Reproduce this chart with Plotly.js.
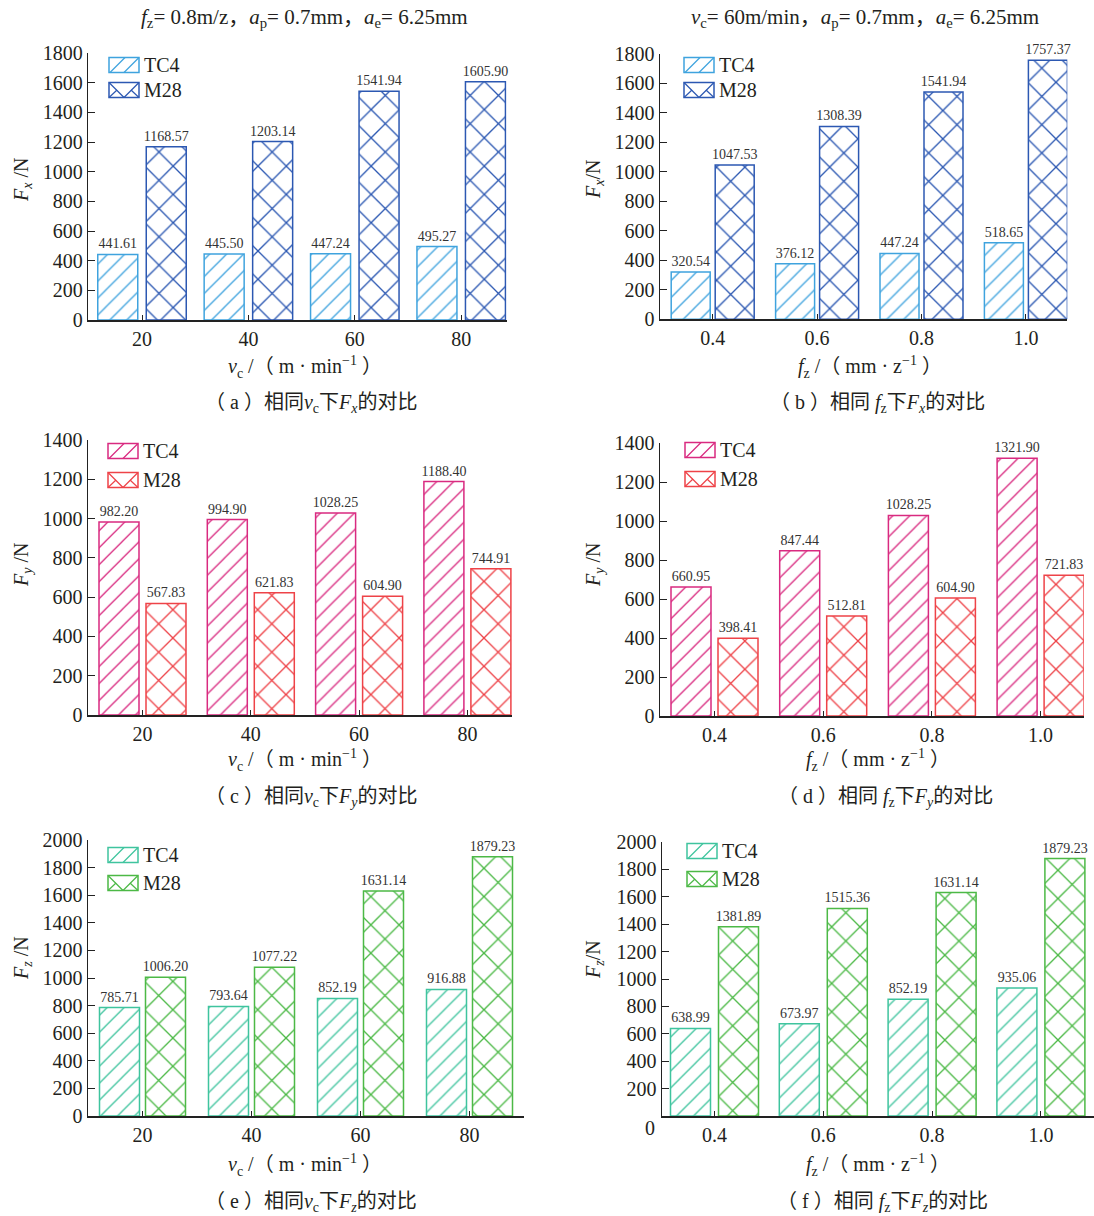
<!DOCTYPE html>
<html>
<head>
<meta charset="utf-8">
<script src="https://cdn.plot.ly/plotly-3.0.1.min.js"></script>
<style>html,body{margin:0;padding:0;background:#fff;}#chart{width:1094px;height:1216px;}</style>
</head>
<body>
<div id="chart"></div>
<script>
// ---------------- data ----------------
const vcCats = ['20', '40', '60', '80'];
const fzCats = ['0.4', '0.6', '0.8', '1.0'];
const seriesNames = ['TC4', 'M28'];

const fxVcTC4 = [441.61, 445.50, 447.24, 495.27];
const fxVcM28 = [1168.57, 1203.14, 1541.94, 1605.90];
const fxFzTC4 = [320.54, 376.12, 447.24, 518.65];
const fxFzM28 = [1047.53, 1308.39, 1541.94, 1757.37];
const fyVcTC4 = [982.20, 994.90, 1028.25, 1188.40];
const fyVcM28 = [567.83, 621.83, 604.90, 744.91];
const fyFzTC4 = [660.95, 847.44, 1028.25, 1321.90];
const fyFzM28 = [398.41, 512.81, 604.90, 721.83];
const fzVcTC4 = [785.71, 793.64, 852.19, 916.88];
const fzVcM28 = [1006.20, 1077.22, 1631.14, 1879.23];
const fzFzTC4 = [638.99, 673.97, 852.19, 935.06];
const fzFzM28 = [1381.89, 1515.36, 1631.14, 1879.23];

// ---------------- layout helpers ----------------
const W = 1094, H = 1216;
const px = v => v / W;
const py = v => 1 - v / H;
const FONT = 'Liberation Serif, "Times New Roman", "Noto Sans CJK SC", serif';
const TXT = '#231f20';

const blue = ['#3fa3de', '#2c58b2'];
const red = ['#d92a80', '#ee4348'];
const green = ['#3fc49e', '#4cb946'];

const panels = [
  {L: 88.3, R: 506.7, T: 53, B: 320, c0: 142, sp: 106.4, bw: 40, gap: 8.5, ymax: 1800,
   cats: vcCats, tc4: fxVcTC4, m28: fxVcM28, col: blue, legX: 109, legY: [65, 90]},
  {L: 660, R: 1067.3, T: 54, B: 319.3, c0: 712.7, sp: 104.4, bw: 39, gap: 5, ymax: 1800,
   cats: fzCats, tc4: fxFzTC4, m28: fxFzM28, col: blue, legX: 684, legY: [65, 90]},
  {L: 88, R: 512, T: 440, B: 715, c0: 142.5, sp: 108.3, bw: 40, gap: 7, ymax: 1400,
   cats: vcCats, tc4: fyVcTC4, m28: fyVcM28, col: red, legX: 108, legY: [451, 480]},
  {L: 660, R: 1084, T: 443, B: 716, c0: 714.5, sp: 108.7, bw: 40, gap: 7, ymax: 1400,
   cats: fzCats, tc4: fyFzTC4, m28: fyFzM28, col: red, legX: 685, legY: [450, 479]},
  {L: 88, R: 524, T: 840, B: 1116, c0: 142.5, sp: 109, bw: 40, gap: 6, ymax: 2000,
   cats: vcCats, tc4: fzVcTC4, m28: fzVcM28, col: green, legX: 108, legY: [855, 883]},
  {L: 662, R: 1094, T: 842, B: 1116, c0: 714.5, sp: 108.8, bw: 40, gap: 8, ymax: 2000,
   cats: fzCats, tc4: fzFzTC4, m28: fzFzM28, col: green, legX: 687, legY: [851, 879], noZero: true}
];

const traces = [];
const layout = {
  width: W, height: H,
  margin: {l: 0, r: 0, t: 0, b: 0},
  paper_bgcolor: '#fff', plot_bgcolor: 'rgba(0,0,0,0)',
  barmode: 'overlay',
  showlegend: false,
  font: {family: FONT, color: TXT, size: 20},
  shapes: [], annotations: []
};

panels.forEach((p, i) => {
  const n = i + 1;
  const xs = n === 1 ? '' : String(n);
  const w = p.bw / p.sp;
  const g = p.gap / p.sp;
  [p.tc4, p.m28].forEach((vals, k) => {
    const c = p.col[k];
    traces.push({
      type: 'bar', name: seriesNames[k],
      x: p.cats, y: vals,
      xaxis: 'x' + xs, yaxis: 'y' + xs,
      width: w,
      offset: k === 0 ? -(g / 2 + w) : g / 2,
      text: vals.map(v => v.toFixed(2)),
      textposition: 'outside',
      constraintext: 'none',
      cliponaxis: false,
      textfont: {family: FONT, size: 14, color: '#333'},
      marker: {
        color: '#fff',
        line: {color: c, width: 1.5},
        pattern: {shape: k === 0 ? '/' : 'x', fgcolor: c, bgcolor: '#fff',
                  size: k === 0 ? 12 : 20, solidity: k === 0 ? 0.11 : 0.13, fillmode: 'replace'}
      },
      hoverinfo: 'skip'
    });
  });
  layout['xaxis' + xs] = {
    domain: [px(p.L), px(p.R)], anchor: 'y' + xs,
    type: 'category', categoryorder: 'array', categoryarray: p.cats,
    range: [(p.L - p.c0) / p.sp, (p.R - p.c0) / p.sp],
    showline: true, linecolor: '#222', linewidth: 1.5,
    ticks: 'inside', ticklen: 5, tickwidth: 1, tickcolor: '#222',
    tickfont: {family: FONT, size: 20, color: TXT},
    showgrid: false, zeroline: false, fixedrange: true
  };
  const yax = {
    domain: [py(p.B), py(p.T)], anchor: 'x' + xs,
    range: [0, p.ymax], tick0: 0, dtick: 200,
    showline: true, linecolor: '#222', linewidth: 1.5,
    ticks: 'inside', ticklen: 7, tickwidth: 1, tickcolor: '#222',
    tickfont: {family: FONT, size: 20, color: TXT},
    showgrid: false, zeroline: false, fixedrange: true
  };
  if (p.noZero) {
    const tv = [];
    for (let v = 200; v <= p.ymax; v += 200) tv.push(v);
    yax.tickmode = 'array'; yax.tickvals = tv; yax.ticktext = tv.map(String);
  }
  layout['yaxis' + xs] = yax;

  // legend swatches (drawn as shapes)
  p.legY.forEach((yc, k) => {
    const c = p.col[k];
    const x0 = p.legX, x1 = p.legX + 30, y0 = yc - 7.5, y1 = yc + 7.5;
    layout.shapes.push({type: 'rect', xref: 'paper', yref: 'paper',
      x0: px(x0), x1: px(x1), y0: py(y1), y1: py(y0),
      line: {color: c, width: 1.5}, fillcolor: '#fff'});
    const segs = k === 0
      ? [[x0 + 1, y1, x0 + 16, y0], [x0 + 15, y1, x0 + 30, y0]]
      : [[x0, y0, x0 + 15, y1], [x0 + 15, y1, x0 + 30, y0], [x0, y1, x0 + 8, y0 + 7.5], [x0 + 30, y1, x0 + 22, y0 + 7.5]];
    segs.forEach(s => layout.shapes.push({type: 'line', xref: 'paper', yref: 'paper',
      x0: px(s[0]), y0: py(s[1]), x1: px(s[2]), y1: py(s[3]), line: {color: c, width: 1.2}}));
    layout.annotations.push({xref: 'paper', yref: 'paper', x: px(x1 + 3), y: py(yc),
      xanchor: 'left', yanchor: 'middle', showarrow: false, text: seriesNames[k],
      font: {family: FONT, size: 20, color: TXT}});
  });
});

function ann(x, y, text, opts) {
  layout.annotations.push(Object.assign({xref: 'paper', yref: 'paper', x: px(x), y: py(y),
    xanchor: 'center', yanchor: 'middle', showarrow: false, text: text,
    font: {family: FONT, size: 20, color: TXT}}, opts || {}));
}

// header conditions
const hdrFont = {family: FONT, size: 21, color: TXT};
ann(305, 18, '<i>f</i><sub>z</sub>= 0.8m/z，<i>a</i><sub>p</sub>= 0.7mm，<i>a</i><sub>e</sub>= 6.25mm', {font: hdrFont});
ann(865, 18, '<i>v</i><sub>c</sub>= 60m/min，<i>a</i><sub>p</sub>= 0.7mm，<i>a</i><sub>e</sub>= 6.25mm', {font: hdrFont});

// y-axis titles
ann(22, 180, '<i>F</i><sub><i>x</i></sub> /N', {textangle: -90});
ann(594, 180, '<i>F</i><sub><i>x</i></sub>/N', {textangle: -90});
ann(22, 565, '<i>F</i><sub><i>y</i></sub> /N', {textangle: -90});
ann(594, 565, '<i>F</i><sub><i>y</i></sub> /N', {textangle: -90});
ann(22, 958, '<i>F</i><sub><i>z</i></sub> /N', {textangle: -90});
ann(594, 960, '<i>F</i><sub><i>z</i></sub>/N', {textangle: -90});

// x-axis titles
const vcTitle = '<i>v</i><sub>c</sub> /（ m · min<sup>−1</sup> ）';
const fzTitle = '<i>f</i><sub>z</sub> /（ mm · z<sup>−1</sup> ）';
ann(305, 367, vcTitle);
ann(870, 367, fzTitle);
ann(305, 760, vcTitle);
ann(878, 760, fzTitle);
ann(305, 1165, vcTitle);
ann(878, 1165, fzTitle);

// captions
ann(311, 403, '（ a ）相同<i>v</i><sub>c</sub>下<i>F</i><sub><i>x</i></sub>的对比');
ann(877, 403, '（ b ）相同 <i>f</i><sub>z</sub>下<i>F</i><sub><i>x</i></sub>的对比');
ann(311, 797, '（ c ）相同<i>v</i><sub>c</sub>下<i>F</i><sub><i>y</i></sub>的对比');
ann(885, 797, '（ d ）相同 <i>f</i><sub>z</sub>下<i>F</i><sub><i>y</i></sub>的对比');
ann(311, 1202, '（ e ）相同<i>v</i><sub>c</sub>下<i>F</i><sub><i>z</i></sub>的对比');
ann(882, 1202, '（ f ）相同 <i>f</i><sub>z</sub>下<i>F</i><sub><i>z</i></sub>的对比');

// detached zero label of panel (f)
ann(650, 1128, '0');

Plotly.newPlot('chart', traces, layout, {staticPlot: true, displayModeBar: false});
</script>
</body>
</html>
